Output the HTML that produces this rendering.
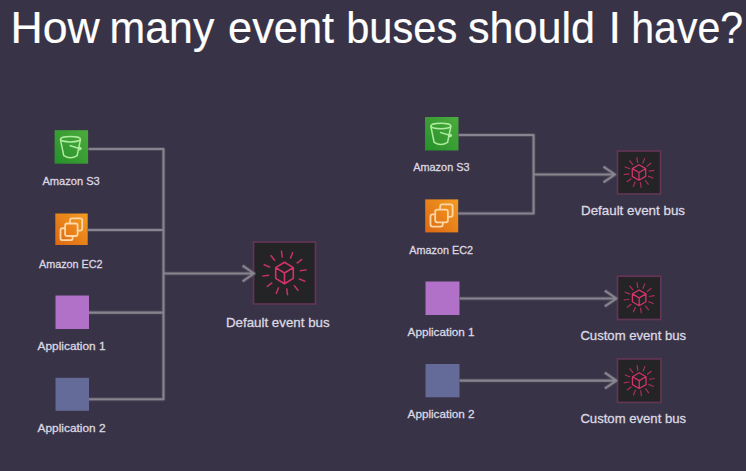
<!DOCTYPE html>
<html><head><meta charset="utf-8"><style>
html,body{margin:0;padding:0;background:#383346;width:746px;height:471px;overflow:hidden}
svg{display:block;font-family:"Liberation Sans",sans-serif}
</style></head><body><svg width="746" height="471" viewBox="0 0 746 471"><defs><linearGradient id="gG" x1="0" y1="1" x2="1" y2="0"><stop offset="0" stop-color="#26902a"/><stop offset="1" stop-color="#4cab3e"/></linearGradient><linearGradient id="gO" x1="0" y1="1" x2="1" y2="0"><stop offset="0" stop-color="#dc6812"/><stop offset="1" stop-color="#f49c22"/></linearGradient></defs><filter id="bl" x="-2%" y="-2%" width="104%" height="104%"><feGaussianBlur stdDeviation="0"/></filter><rect width="746" height="471" fill="#383346"/><g font-size="45" fill="#ffffff" stroke="#ffffff" stroke-width="0.2"><text x="10.53" y="43.2" textLength="89.2" lengthAdjust="spacingAndGlyphs">How</text><text x="109.62" y="43.2" textLength="104.71" lengthAdjust="spacingAndGlyphs">many</text><text x="228.06" y="43.2" textLength="106.02" lengthAdjust="spacingAndGlyphs">event</text><text x="346.23" y="43.2" textLength="110.99" lengthAdjust="spacingAndGlyphs">buses</text><text x="468.04" y="43.2" textLength="127.06" lengthAdjust="spacingAndGlyphs">should</text><text x="608.4" y="43.2" textLength="12.51" lengthAdjust="spacingAndGlyphs">I</text><text x="631.25" y="43.2" textLength="111.95" lengthAdjust="spacingAndGlyphs">have?</text></g><g><rect x="54.6" y="130.2" width="33.5" height="33.5" fill="url(#gG)"/><path d="M60.41 139.36L63.76 155.62Q70.46 159.76 77.16 155.62L80.51 139.36M69.58 145.57L79.43 148.53" stroke="#b0ec9e" stroke-width="1.5" fill="none"/><ellipse cx="70.46" cy="139.17" rx="10.05" ry="2.71" fill="none" stroke="#b0ec9e" stroke-width="1.5"/><ellipse cx="79.63" cy="148.62" rx="2.07" ry="1.77" fill="#b0ec9e"/><rect x="55.3" y="213.5" width="32.4" height="31.50" fill="url(#gO)"/><path d="M70.03 223.51L70.03 220.37Q70.03 218.41 71.99 218.41L80.24 218.41Q82.20 218.41 82.20 220.37L82.20 228.62Q82.20 230.58 80.24 230.58L77.59 230.58M65.12 228.23L62.47 228.23Q60.50 228.23 60.50 230.19L60.50 238.24Q60.50 240.21 62.47 240.21L70.62 240.21Q72.58 240.21 72.58 238.24L72.58 236.08" stroke="#ffd6a6" stroke-width="1.8" fill="none"/><rect x="65.12" y="223.51" width="12.47" height="12.47" rx="1.96" fill="none" stroke="#ffd6a6" stroke-width="1.8"/><rect x="55.5" y="295.5" width="33.5" height="33.5" fill="#b171c9"/><rect x="55.5" y="377.8" width="33.5" height="33" fill="#646b98"/><rect x="253.50" y="242.00" width="62.00" height="62.00" fill="#242326" stroke="#633556" stroke-width="1.7"/><path d="M299.85 270.84L306.78 269.87M298.87 278.81L305.36 281.43M294.04 285.21L298.35 290.73M286.66 288.35L287.63 295.28M278.69 287.37L276.07 293.86M272.29 282.54L266.77 286.85M269.15 275.16L262.22 276.13M270.13 267.19L263.64 264.57M274.96 260.79L270.65 255.27M282.34 257.65L281.37 250.72M290.31 258.63L292.93 252.14M296.71 263.46L302.23 259.15" stroke="#c23366" stroke-width="1.50" fill="none"/><path d="M284.50 262.20L293.30 267.60L293.30 278.40L284.50 283.80L275.70 278.40L275.70 267.60ZM275.70 267.60L284.50 273.00L293.30 267.60M284.50 273.00L284.50 283.80" stroke="#d4336a" stroke-width="1.60" stroke-linejoin="round" fill="none"/><rect x="425" y="117" width="33.5" height="33.5" fill="url(#gG)"/><path d="M430.81 126.16L434.16 142.42Q440.86 146.56 447.56 142.42L450.91 126.16M439.98 132.37L449.83 135.33" stroke="#b0ec9e" stroke-width="1.5" fill="none"/><ellipse cx="440.86" cy="125.97" rx="10.05" ry="2.71" fill="none" stroke="#b0ec9e" stroke-width="1.5"/><ellipse cx="450.03" cy="135.43" rx="2.07" ry="1.77" fill="#b0ec9e"/><rect x="425.2" y="199.4" width="33" height="33.00" fill="url(#gO)"/><path d="M440.20 209.60L440.20 206.40Q440.20 204.40 442.20 204.40L450.60 204.40Q452.60 204.40 452.60 206.40L452.60 214.80Q452.60 216.80 450.60 216.80L447.90 216.80M435.20 214.40L432.50 214.40Q430.50 214.40 430.50 216.40L430.50 224.60Q430.50 226.60 432.50 226.60L440.80 226.60Q442.80 226.60 442.80 224.60L442.80 222.40" stroke="#ffd6a6" stroke-width="1.8" fill="none"/><rect x="435.20" y="209.60" width="12.70" height="12.70" rx="2.00" fill="none" stroke="#ffd6a6" stroke-width="1.8"/><rect x="425.5" y="281.5" width="34" height="33.5" fill="#b171c9"/><rect x="425.5" y="364" width="34" height="33.3" fill="#646b98"/><rect x="617.50" y="151.00" width="43.00" height="43.00" fill="#242326" stroke="#633556" stroke-width="1.7"/><path d="M648.68 171.14L654.35 170.34M648.07 176.16L653.38 178.31M645.02 180.20L648.55 184.72M640.36 182.18L641.16 187.85M635.34 181.57L633.19 186.88M631.30 178.52L626.78 182.05M629.32 173.86L623.65 174.66M629.93 168.84L624.62 166.69M632.98 164.80L629.45 160.28M637.64 162.82L636.84 157.15M642.66 163.43L644.81 158.12M646.70 166.48L651.22 162.95" stroke="#a8305e" stroke-width="1.20" fill="none"/><path d="M639.00 164.68L645.70 168.59L645.70 176.41L639.00 180.32L632.30 176.41L632.30 168.59ZM632.30 168.59L639.00 172.50L645.70 168.59M639.00 172.50L639.00 180.32" stroke="#d4336a" stroke-width="1.28" stroke-linejoin="round" fill="none"/><rect x="617.50" y="276.20" width="43.30" height="43.30" fill="#242326" stroke="#633556" stroke-width="1.7"/><path d="M648.90 296.48L654.61 295.68M648.28 301.54L653.62 303.70M645.21 305.61L648.76 310.15M640.52 307.60L641.32 313.31M635.46 306.98L633.30 312.32M631.39 303.91L626.85 307.46M629.40 299.22L623.69 300.02M630.02 294.16L624.68 292.00M633.09 290.09L629.54 285.55M637.78 288.10L636.98 282.39M642.84 288.72L645.00 283.38M646.91 291.79L651.45 288.24" stroke="#a8305e" stroke-width="1.20" fill="none"/><path d="M639.15 289.97L645.90 293.91L645.90 301.79L639.15 305.73L632.40 301.79L632.40 293.91ZM632.40 293.91L639.15 297.85L645.90 293.91M639.15 297.85L639.15 305.73" stroke="#d4336a" stroke-width="1.28" stroke-linejoin="round" fill="none"/><rect x="617.50" y="358.90" width="43.50" height="43.50" fill="#242326" stroke="#633556" stroke-width="1.7"/><path d="M649.04 379.27L654.78 378.47M648.42 384.35L653.79 386.52M645.34 388.44L648.90 393.01M640.63 390.44L641.43 396.18M635.55 389.82L633.38 395.19M631.46 386.74L626.89 390.30M629.46 382.03L623.72 382.83M630.08 376.95L624.71 374.78M633.16 372.86L629.60 368.29M637.87 370.86L637.07 365.12M642.95 371.48L645.12 366.11M647.04 374.56L651.61 371.00" stroke="#a8305e" stroke-width="1.20" fill="none"/><path d="M639.25 372.74L646.03 376.69L646.03 384.61L639.25 388.56L632.47 384.61L632.47 376.69ZM632.47 376.69L639.25 380.65L646.03 376.69M639.25 380.65L639.25 388.56" stroke="#d4336a" stroke-width="1.28" stroke-linejoin="round" fill="none"/><path d="M88.5 149H163.5V399.2H89M88 230H163.5M89 312.6H163.5M163.5 273.5H254M242.6 265.6L254 273.5L242.6 281.4M458.5 135H533.6V213.5H458.2M533.6 174.5H615.5M603.4 166.6L615 174.5L603.4 182.4M459.5 298.5H617M604.8 290.6L616.4 298.5L604.8 306.4M459.5 380.6H617M604.8 372.7L616.4 380.6L604.8 388.5" stroke="#55515f" stroke-opacity="0.7" stroke-width="4.0" stroke-linejoin="round" fill="none"/><path d="M88.5 149H163.5V399.2H89M88 230H163.5M89 312.6H163.5M163.5 273.5H254M242.6 265.6L254 273.5L242.6 281.4M458.5 135H533.6V213.5H458.2M533.6 174.5H615.5M603.4 166.6L615 174.5L603.4 182.4M459.5 298.5H617M604.8 290.6L616.4 298.5L604.8 306.4M459.5 380.6H617M604.8 372.7L616.4 380.6L604.8 388.5" stroke="#88848f" stroke-width="2.1" stroke-linejoin="round" fill="none"/></g><g fill="#dcd8e2" stroke="#dcd8e2" stroke-width="0.3"><text x="42.4" y="185" font-size="11.5" textLength="57.4" lengthAdjust="spacingAndGlyphs">Amazon S3</text><text x="39" y="268" font-size="11.5" textLength="63.6" lengthAdjust="spacingAndGlyphs">Amazon EC2</text><text x="37.6" y="349.8" font-size="11.5" textLength="68" lengthAdjust="spacingAndGlyphs">Application 1</text><text x="37.6" y="432" font-size="11.5" textLength="68" lengthAdjust="spacingAndGlyphs">Application 2</text><text x="226" y="327.1" font-size="13.5" textLength="103.6" lengthAdjust="spacingAndGlyphs">Default event bus</text><text x="413.2" y="171.2" font-size="11.5" textLength="56.4" lengthAdjust="spacingAndGlyphs">Amazon S3</text><text x="409.3" y="253.8" font-size="11.5" textLength="63.7" lengthAdjust="spacingAndGlyphs">Amazon EC2</text><text x="407.6" y="335.9" font-size="11.5" textLength="67" lengthAdjust="spacingAndGlyphs">Application 1</text><text x="407.6" y="418.3" font-size="11.5" textLength="67" lengthAdjust="spacingAndGlyphs">Application 2</text><text x="581" y="215.3" font-size="13.5" textLength="104" lengthAdjust="spacingAndGlyphs">Default event bus</text><text x="580.4" y="340.4" font-size="13.5" textLength="105.7" lengthAdjust="spacingAndGlyphs">Custom event bus</text><text x="580.4" y="423.4" font-size="13.5" textLength="105.7" lengthAdjust="spacingAndGlyphs">Custom event bus</text></g></svg></body></html>
